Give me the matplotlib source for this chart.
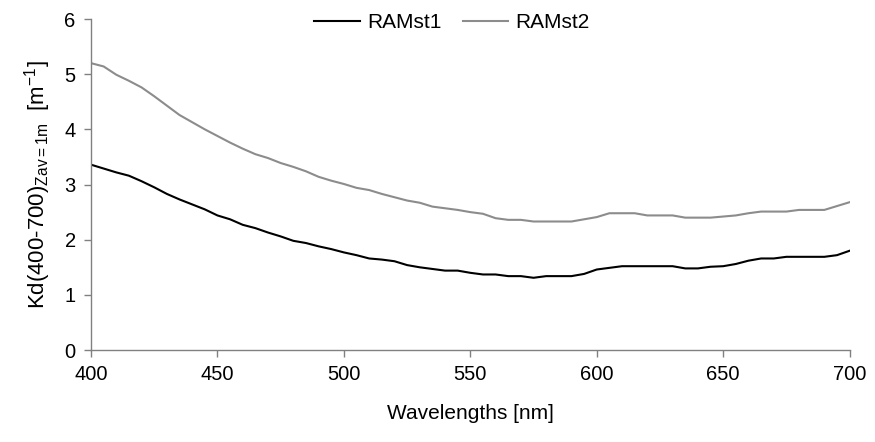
import numpy as np
import matplotlib
matplotlib.use("Agg")
import matplotlib.pyplot as plt

plt.rcParams["font.family"] = ["Liberation Sans", "DejaVu Sans"]
plt.rcParams["mathtext.fontset"] = "custom"
plt.rcParams["mathtext.rm"] = "Liberation Sans"
plt.rcParams["mathtext.it"] = "Liberation Sans"

# --- Data (5 nm steps) ---
wavelengths = np.arange(400, 701, 5)

ramst1 = [3.36, 3.29, 3.22, 3.16, 3.06, 2.95, 2.83, 2.73, 2.64, 2.55,
          2.44, 2.37, 2.27, 2.21, 2.13, 2.06, 1.98, 1.94, 1.88, 1.83,
          1.77, 1.72, 1.66, 1.64, 1.61, 1.54, 1.50, 1.47, 1.44, 1.44,
          1.40, 1.37, 1.37, 1.34, 1.34, 1.31, 1.34, 1.34, 1.34, 1.38,
          1.46, 1.49, 1.52, 1.52, 1.52, 1.52, 1.52, 1.48, 1.48, 1.51,
          1.52, 1.56, 1.62, 1.66, 1.66, 1.69, 1.69, 1.69, 1.69, 1.72,
          1.80]

ramst2 = [5.20, 5.14, 4.99, 4.88, 4.76, 4.60, 4.43, 4.26, 4.13, 4.00,
          3.88, 3.76, 3.65, 3.55, 3.48, 3.39, 3.32, 3.24, 3.14, 3.07,
          3.01, 2.94, 2.90, 2.83, 2.77, 2.71, 2.67, 2.60, 2.57, 2.54,
          2.50, 2.47, 2.39, 2.36, 2.36, 2.33, 2.33, 2.33, 2.33, 2.37,
          2.41, 2.48, 2.48, 2.48, 2.44, 2.44, 2.44, 2.40, 2.40, 2.40,
          2.42, 2.44, 2.48, 2.51, 2.51, 2.51, 2.54, 2.54, 2.54, 2.61,
          2.68]

x_ticks = [400, 450, 500, 550, 600, 650, 700]
y_ticks = [0, 1, 2, 3, 4, 5, 6]

# --- Plot ---
fig = plt.figure(figsize=(8.75, 4.42), dpi=100)
ax = fig.add_axes([0.104, 0.208, 0.867, 0.749])

ax.plot(wavelengths, ramst1, color="black", lw=1.5, label="RAMst1")
ax.plot(wavelengths, ramst2, color="#8c8c8c", lw=1.5, label="RAMst2")

ax.set_xlim(400, 700)
ax.set_ylim(0, 6)
ax.set_xticks(x_ticks)
ax.set_yticks(y_ticks)

for side in ("top", "right"):
    ax.spines[side].set_visible(False)
for side in ("left", "bottom"):
    ax.spines[side].set_color("#808080")
    ax.spines[side].set_linewidth(1.0)
ax.tick_params(direction="out", length=5, width=1.0, color="#808080",
               labelsize=14.5, pad=6)

ax.set_xlabel("Wavelengths [nm]", fontsize=15, labelpad=14)
ax.set_ylabel(r"Kd(400-700)$_{\mathrm{Zav=1m}}$  [m$^{\mathrm{-1}}$]",
              fontsize=16, labelpad=8)

ax.legend(loc="upper center", bbox_to_anchor=(0.476, 1.075), ncol=2,
          frameon=False, fontsize=15, handlelength=2.2, columnspacing=1.0,
          handletextpad=0.35)

fig.savefig("out.png", dpi=100)
